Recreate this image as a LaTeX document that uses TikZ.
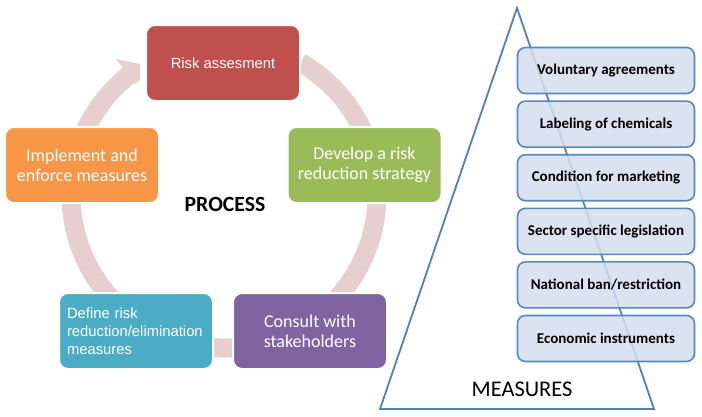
\documentclass[tikz,border=0pt]{standalone}
\usepackage{fontspec}
\setmainfont{Carlito}
\newfontfamily\arialfont{Liberation Sans}
\usepackage{xcolor}
\usepackage{tikz}
\usetikzlibrary{positioning}
\definecolor{riskred}{RGB}{192,80,77}
\definecolor{stratgreen}{RGB}{155,187,89}
\definecolor{consultpurple}{RGB}{128,100,162}
\definecolor{defineblue}{RGB}{75,172,198}
\definecolor{implorange}{RGB}{247,150,70}
\definecolor{ringpink}{RGB}{231,207,208}
\definecolor{pyrblue}{RGB}{79,129,189}
\definecolor{measfill}{RGB}{211,222,236}
\tikzstyle{stage} = [rectangle, rounded corners=9pt, minimum width=154pt, minimum height=76pt, text centered, draw=white, line width=2pt, text=white, outer sep=0pt, font=\fontsize{18}{20}\selectfont]
\tikzstyle{arialtext} = [font=\arialfont\fontsize{14.8}{17.8}\selectfont]
\tikzstyle{measure} = [rectangle, rounded corners=8pt, minimum width=177pt, minimum height=46pt, text centered, draw=pyrblue!95!white, line width=1.6pt, fill=measfill, fill opacity=0.85, text opacity=1, font=\bfseries\fontsize{15}{18}\selectfont]
\tikzstyle{ring} = [ringpink, line width=19pt]

\begin{document}
\begin{tikzpicture}[x=1pt, y=-1pt, node distance=6pt]
					\useasboundingbox (0,0) rectangle (702,416);
					\coordinate (ctr) at (224,195);
					\draw [ring] (ctr) ++(60:153pt) arc[start angle=60, end angle=-232, radius=153pt];
					\fill [ringpink] (116,59) -- (140,64) -- (140,80) -- (135,84) -- cycle;

					\node (risk) [stage, fill=riskred, arialtext] at (223,63) {Risk assesment};
					\node (develop) [stage, fill=stratgreen, align=center] at (364.5,165) {Develop a risk\\reduction strategy};
					\node (consult) [stage, fill=consultpurple, align=center] at (310,331) {Consult with\\stakeholders};
					\node (define) [stage, fill=defineblue, arialtext, align=left, text width=138pt] at (136,331) {Define risk\\reduction/elimination\\measures};
					\node (implement) [stage, fill=implorange, align=center] at (82,165) {Implement and\\enforce measures};
					\node (process) [font=\bfseries\fontsize{21.7}{25}\selectfont] at (225,204) {PROCESS};

					\coordinate (apex) at (517,8);
					\coordinate (baseleft) at (380,409);
					\coordinate (baseright) at (654,409);
					\draw [pyrblue, line width=1.8pt] (apex) -- (baseleft) -- (baseright) -- cycle;
					\node (measures) [font=\fontsize{22.4}{26}\selectfont] at (522,389) {MEASURES};

					\node (voluntary) [measure] at (606,70.5) {Voluntary agreements};
					\node (labeling) [measure, below = of voluntary] {Labeling of chemicals};
					\node (condition) [measure, below = of labeling] {Condition for marketing};
					\node (sector) [measure, below = of condition] {Sector specific legislation};
					\node (national) [measure, below = of sector] {National ban/restriction};
					\node (economic) [measure, below = of national] {Economic instruments};
			\end{tikzpicture}
\end{document}
